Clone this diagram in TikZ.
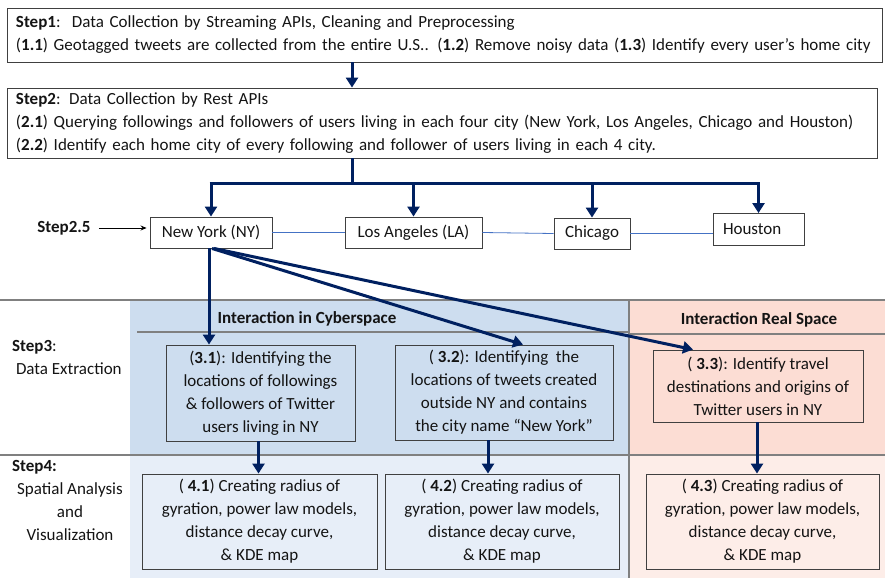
\documentclass[tikz,border=0pt]{standalone}
\usepackage{fontspec}
\setmainfont{Carlito}
\usetikzlibrary{arrows.meta,calc}
\definecolor{navy}{RGB}{0,32,96}
\definecolor{boxgray}{RGB}{64,64,64}
\definecolor{sepgray}{RGB}{128,128,128}
\definecolor{cityblue}{RGB}{68,114,196}
\definecolor{blueA}{RGB}{205,221,239}
\definecolor{blueB}{RGB}{231,238,248}
\definecolor{redA}{RGB}{252,221,212}
\definecolor{redB}{RGB}{253,237,232}
\definecolor{txt}{RGB}{20,20,20}
\tikzset{
  fs/.style={font=\fontsize{17}{23}\selectfont, text=txt},
  bx/.style={draw=boxgray, line width=0.9pt, inner sep=0pt, align=center, fs},
  stepbox/.style={bx, align=left, inner xsep=9pt, inner ysep=0pt},
  citybox/.style={bx},
  bigarrow/.style={draw=navy, line width=3pt, -{Triangle[length=10pt,width=12pt]}},
  bigline/.style={draw=navy, line width=3pt},
  thinblue/.style={draw=cityblue, line width=0.8pt},
  sep/.style={draw=sepgray, line width=1.4pt},
  lbl/.style={fs, inner sep=0pt},
  blbl/.style={lbl, font=\fontsize{17}{23}\selectfont\bfseries}
}
\begin{document}
\begin{tikzpicture}[x=1pt,y=-1pt]
\useasboundingbox (0,0) rectangle (885,578);
% background regions
\fill[blueA] (130,300) rectangle (629,455);
\fill[blueB] (130,455) rectangle (629,578);
\fill[redA] (629,300) rectangle (885,455);
\fill[redB] (629,455) rectangle (885,578);
\draw[sep] (0,300) -- (885,300);
\draw[sep] (0,455) -- (885,455);
\draw[sep] (629,300) -- (629,578);
\draw[sep] (137,332) -- (629,332);
\draw[sep] (629,334) -- (885,334);

% top boxes
\node[stepbox, text width=857pt, minimum height=54pt] (s1) at (444.5,35)
  {\textbf{Step1}:\ \ Data Collection by Streaming APIs, Cleaning and Preprocessing\\
   (\textbf{1.1}) Geotagged tweets are collected from the entire U.S.. (\textbf{1.2}) Remove noisy data (\textbf{1.3}) Identify every user’s home city};
\node[stepbox, text width=852pt, minimum height=70pt] (s2) at (442,123)
  {\textbf{Step2}: Data Collection by Rest APIs\\
   (\textbf{2.1}) Querying followings and followers of users living in each four city (New York, Los Angeles, Chicago and Houston)\\
   (\textbf{2.2}) Identify each home city of every following and follower of users living in each 4 city.};

% cities
\node[citybox, minimum width=122pt, minimum height=31pt] (ny) at (211,232.5) {New York (NY)};
\node[citybox, minimum width=137pt, minimum height=31pt] (la) at (413.5,232.5) {Los Angeles (LA)};
\node[citybox, minimum width=76pt, minimum height=31pt] (chi) at (592,233.5) {Chicago};
\node[citybox, align=left, text width=71pt, inner xsep=10pt, minimum height=32pt] (hou) at (758.5,229.5) {Houston};

\node[blbl] (s25) at (64,228) {Step2.5};
\draw[black, line width=0.8pt, -{Stealth[length=6pt,width=5pt]}] ([xshift=8pt]s25.east) -- ([xshift=-3pt]ny.west |- s25.east);

\draw[thinblue] (ny.east) -- (la.west);
\draw[thinblue] (la.east) -- (chi.west);
\draw[thinblue] (chi.east) -- (chi.east -| hou.west);

% step1 -> step2
\coordinate (cx) at (352,0);
\coordinate (bar) at (0,183);
\draw[bigarrow] (s1.south -| cx) -- (s2.north -| cx);
\draw[bigline] (s2.south -| cx) -- (cx |- bar);
\draw[bigline] ([xshift=-1.5pt]bar -| ny.north) -- ([xshift=1.5pt]bar -| hou.north);
\draw[bigarrow] ([yshift=-1.5pt]bar -| ny.north) -- (ny.north);
\draw[bigarrow] ([yshift=-1.5pt]bar -| la.north) -- (la.north);
\draw[bigarrow] ([yshift=-1.5pt]bar -| chi.north) -- (chi.north);
\draw[bigarrow] ([yshift=-1.5pt]bar -| hou.north) -- (hou.north);

% headers
\node[blbl] (hc) at (307,319) {Interaction in Cyberspace};
\node[blbl] (hr) at (759,320) {Interaction Real Space};

% step labels
\node[lbl, anchor=north west, align=left] (st3) at (12,340) {\textbf{Step3}:\\\ Data Extraction};
\node[blbl, anchor=north west] (st4) at (12,460) {Step4:};
\node[lbl, align=center] (st4b) at (70,512) {Spatial Analysis\\and\\Visualization};

% step3 boxes
\node[bx, minimum width=189pt, minimum height=96pt] (b31) at (260.5,393)
  {(\textbf{3.1}): Identifying the\\locations of followings\\\& followers of Twitter\\users living in NY};
\node[bx, minimum width=218pt, minimum height=95pt] (b32) at (504,392.5)
  {( \textbf{3.2}): Identifying\ \ the\\locations of tweets created\\outside NY and contains\\the city name “New York”};
\node[bx, minimum width=210pt, minimum height=72pt] (b33) at (758,386)
  {( \textbf{3.3}): Identify travel\\destinations and origins of\\Twitter users in NY};

% step4 boxes
\node[bx, minimum width=235pt, minimum height=95pt] (b41) at (259.5,521.5)
  {( \textbf{4.1}) Creating radius of\\gyration, power law models,\\distance decay curve,\\\& KDE map};
\node[bx, minimum width=234pt, minimum height=95pt] (b42) at (502,521.5)
  {( \textbf{4.2}) Creating radius of\\gyration, power law models,\\distance decay curve,\\\& KDE map};
\node[bx, minimum width=233pt, minimum height=95pt] (b43) at (762.5,521.5)
  {( \textbf{4.3}) Creating radius of\\gyration, power law models,\\distance decay curve,\\\& KDE map};

% NY -> step3
\draw[bigarrow] ([xshift=-2pt]ny.south) -- ([xshift=-2pt]ny.south |- b31.north);
\draw[bigarrow] ([xshift=1pt]ny.south) -- ([xshift=19pt]b32.north);
\draw[bigarrow] ([xshift=3pt]ny.south) -- ([xshift=-65pt]b33.north);

% step3 -> step4
\draw[bigarrow] ([xshift=-2pt]b31.south) -- ([xshift=-2pt]b31.south |- b41.north);
\draw[bigarrow] ([xshift=-16pt]b32.south) -- ([xshift=-16pt]b32.south |- b42.north);
\draw[bigarrow] ([xshift=-1pt]b33.south) -- ([xshift=-1pt]b33.south |- b43.north);
\end{tikzpicture}
\end{document}
